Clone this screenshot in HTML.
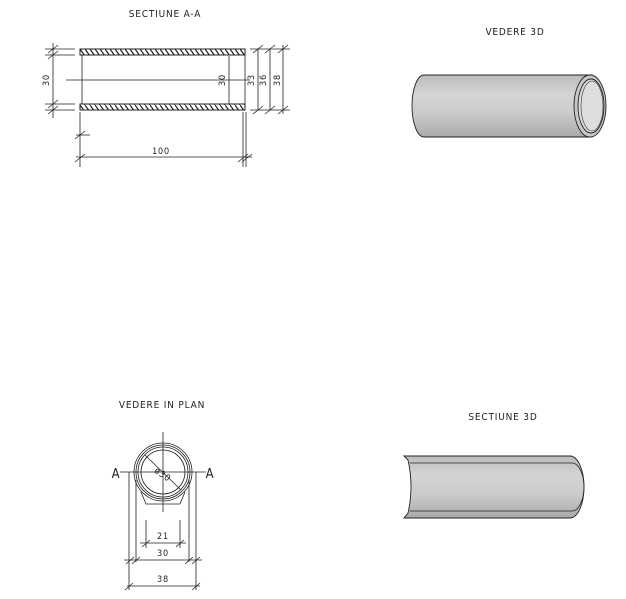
<!DOCTYPE html>
<html><head><meta charset="utf-8"><style>
body{margin:0;background:#fff}
svg text{font-family:"DejaVu Sans Condensed","Liberation Sans",sans-serif;fill:#222;letter-spacing:0.8px}
</style></head><body>
<svg width="626" height="594" viewBox="0 0 626 594" xmlns="http://www.w3.org/2000/svg">
<defs>
<pattern id="h" width="5" height="7" patternUnits="userSpaceOnUse"><path d="M0,0 L5,7" stroke="#111" stroke-width="1.1"/></pattern>
<linearGradient id="g" x1="0" y1="0" x2="0" y2="1">
<stop offset="0" stop-color="#bbb"/><stop offset="0.3" stop-color="#d4d4d4"/><stop offset="0.6" stop-color="#ccc"/><stop offset="1" stop-color="#aaa"/></linearGradient>
</defs>
<g stroke="#222" stroke-width="0.8" fill="none">
<rect x="80" y="49" width="165" height="6" fill="url(#h)" stroke-width="1"/>
<rect x="80" y="104" width="165" height="6" fill="url(#h)" stroke-width="1"/>
<line x1="82" y1="55" x2="82" y2="104"/>
<line x1="229" y1="56" x2="229" y2="104"/>
<line x1="245" y1="55" x2="245" y2="104"/>
<line x1="66" y1="80" x2="250" y2="80"/>
<line x1="53" y1="43" x2="53" y2="118"/>
<line x1="45" y1="49" x2="75" y2="49"/><line x1="45" y1="55" x2="75" y2="55"/>
<line x1="45" y1="104" x2="75" y2="104"/><line x1="45" y1="110" x2="75" y2="110"/>
<path d="M48,53 l10,-8 M48,59 l10,-8 M48,108 l10,-8 M48,114 l10,-8"/>
<line x1="250" y1="49" x2="290" y2="49"/><line x1="250" y1="110" x2="290" y2="110"/>
<line x1="258" y1="49" x2="258" y2="110"/><line x1="270" y1="49" x2="270" y2="110"/><line x1="283" y1="45" x2="283" y2="114"/>
<path d="M253,53 l10,-8 M265,53 l10,-8 M278,53 l10,-8 M253,114 l10,-8 M265,114 l10,-8 M278,114 l10,-8"/>
<line x1="80" y1="112" x2="80" y2="167"/><line x1="243" y1="112" x2="243" y2="167"/><line x1="246" y1="112" x2="246" y2="167"/>
<line x1="76" y1="135" x2="90" y2="135"/>
<line x1="76" y1="157" x2="252" y2="157"/>
<path d="M75,139 l10,-8 M75,162 l10,-8 M238,162 l10,-8 M242,162 l10,-8"/>
<line x1="163" y1="432" x2="163" y2="512"/>
<line x1="120" y1="472" x2="206" y2="472"/>
<circle cx="163" cy="472" r="29"/><circle cx="163" cy="472" r="27"/><circle cx="163" cy="472" r="25"/><circle cx="163" cy="472" r="22"/>
<path d="M141,492 l5,12 h34 l5,-12"/>
<line x1="129" y1="472" x2="129" y2="590"/><line x1="136" y1="480" x2="136" y2="562"/>
<line x1="196" y1="472" x2="196" y2="590"/><line x1="189" y1="480" x2="189" y2="562"/>
<line x1="146" y1="520" x2="146" y2="548"/><line x1="180" y1="520" x2="180" y2="548"/>
<line x1="140" y1="543" x2="186" y2="543"/>
<line x1="124" y1="560" x2="202" y2="560"/>
<line x1="127" y1="586" x2="200" y2="586"/>
<line x1="145" y1="455" x2="181" y2="490"/>
<path d="M142,547 l8,-7 M176,547 l8,-7 M126,564 l8,-7 M132,564 l8,-7 M185,564 l8,-7 M192,564 l8,-7 M125,590 l8,-7 M192,590 l8,-7"/>
</g>
<text x="165" y="17" font-size="10" text-anchor="middle">SECTIUNE   A-A</text>
<text transform="translate(49,80) rotate(-90)" font-size="9" text-anchor="middle">30</text>
<text transform="translate(225,80) rotate(-90)" font-size="9" text-anchor="middle">30</text>
<text transform="translate(254,80) rotate(-90)" font-size="9" text-anchor="middle">33</text>
<text transform="translate(266,80) rotate(-90)" font-size="9" text-anchor="middle">36</text>
<text transform="translate(280,80) rotate(-90)" font-size="9" text-anchor="middle">38</text>
<text x="161" y="154" font-size="9" text-anchor="middle">100</text>
<text x="515" y="35" font-size="10" text-anchor="middle">VEDERE 3D</text>
<text x="162" y="408" font-size="10" text-anchor="middle">VEDERE IN PLAN</text>
<text x="503" y="420" font-size="10" text-anchor="middle">SECTIUNE 3D</text>
<text x="116" y="478" font-size="13" text-anchor="middle">A</text>
<text x="210" y="478" font-size="13" text-anchor="middle">A</text>
<text transform="translate(161,477) rotate(35)" font-size="9" text-anchor="middle">ø30</text>
<text x="163" y="539" font-size="9" text-anchor="middle">21</text>
<text x="163" y="556" font-size="9" text-anchor="middle">30</text>
<text x="163" y="582" font-size="9" text-anchor="middle">38</text>
<path d="M424,75 H592 V137 H424 A12,31 0 0 1 424,75 Z" fill="url(#g)" stroke="#222" stroke-width="0.9"/>
<ellipse cx="590" cy="106" rx="16" ry="31" fill="#c8c8c8" stroke="#222" stroke-width="0.9"/>
<ellipse cx="591" cy="106" rx="13" ry="27" fill="#ddd" stroke="#222" stroke-width="0.9"/>
<ellipse cx="592" cy="106" rx="11" ry="25" fill="#ddd" stroke="#333" stroke-width="0.6"/>
<path d="M404,456 H570 A14,31 0 0 1 570,518 H404 L408,513 Q414,487 408,460 Z" fill="url(#g)" stroke="#222" stroke-width="0.9"/>
<path d="M410,463 H572 M410,511 H572 M572,463 A12,24 0 0 1 572,511" fill="none" stroke="#222" stroke-width="0.8"/>
</svg>
</body></html>
